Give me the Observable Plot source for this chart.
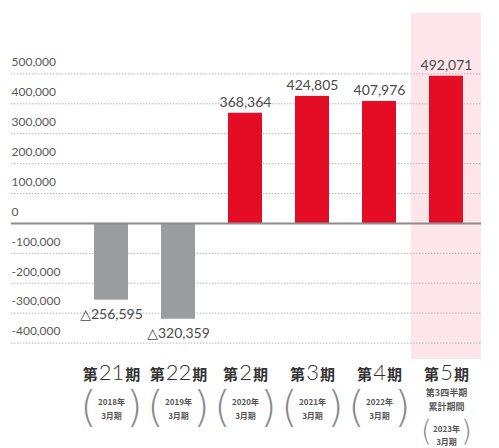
<!DOCTYPE html>
<html>
<head>
<meta charset="utf-8">
<script src="https://cdn.jsdelivr.net/npm/d3@7"></script>
<script src="https://cdn.jsdelivr.net/npm/@observablehq/plot@0.6"></script>
<style>
  html, body { margin: 0; padding: 0; background: #fff; }
  svg { display: block; }
</style>
</head>
<body>
<div id="chart"></div>
<script>
// ---- data ----
const periods = ["第21期", "第22期", "第2期", "第3期", "第4期", "第5期"];
const values = [-256595, -320359, 368364, 424805, 407976, 492071];
const valueLabels = ["△256,595", "△320,359", "368,364", "424,805", "407,976", "492,071"];
const fiscalYears = ["2018年", "2019年", "2020年", "2021年", "2022年", "2023年"];
const fiscalMonths = ["3月期", "3月期", "3月期", "3月期", "3月期", "3月期"];
const notes = ["", "", "", "", "", "第3四半期\n累計期間"];
const highlighted = ["第5期"];
const yTicks = [500000, 400000, 300000, 200000, 100000, 0, -100000, -200000, -300000, -400000];
const yTickLabels = ["500,000", "400,000", "300,000", "200,000", "100,000", "0", "-100,000", "-200,000", "-300,000", "-400,000"];
const yDomain = [-455000, 702000];

const rows = periods.map((p, i) => ({
  period: p, value: values[i], label: valueLabels[i],
  year: fiscalYears[i], month: fiscalMonths[i], note: notes[i]
}));
const ticks = yTicks.map((t, i) => ({t, label: yTickLabels[i]}));
const band = highlighted.map(p => ({period: p, y1: yDomain[0], y2: yDomain[1]}));

const numFont = "Lato, 'DejaVu Sans', sans-serif";
const jpFont = "'Noto Sans CJK JP', sans-serif";
const parenFont = "'DejaVu Sans', sans-serif";

const plainRows = rows.filter(d => d.note === "");
const noteRows = rows.filter(d => d.note !== "");

const chart = Plot.plot({
  width: 499,
  height: 448,
  marginTop: 13,
  marginBottom: 89,
  marginLeft: 11,
  marginRight: 18,
  style: {background: "#fff", fontFamily: numFont},
  x: {type: "band", domain: periods, paddingInner: 0.5, paddingOuter: 0.706, align: 0.813, axis: null},
  y: {domain: yDomain, axis: null},
  marks: [
    Plot.barY(band, {x: "period", y1: "y1", y2: "y2", fill: "#fde5e9", insetLeft: -18, insetRight: -18}),
    Plot.ruleY(yTicks.filter(t => t !== 0), {stroke: "#b5b5b5", strokeWidth: 1, strokeDasharray: "1.5,1.5"}),
    Plot.text(ticks, {y: "t", text: "label", frameAnchor: "left", textAnchor: "start", lineAnchor: "middle", dy: -11.5, fontSize: 12, fill: "#5a5a5a", fontFamily: numFont}),
    Plot.barY(rows, {x: "period", y: "value", fill: d => d.value < 0 ? "#9a9da0" : "#e50c26"}),
    Plot.ruleY([0], {stroke: "#8c8c8c", strokeWidth: 2}),
    Plot.text(rows.filter(d => d.value >= 0), {x: "period", y: "value", text: "label", lineAnchor: "bottom", dy: -6, fontSize: 14, fill: "#4a4a4a", fontFamily: numFont}),
    Plot.text(rows.filter(d => d.value < 0), {x: "period", y: "value", text: "label", lineAnchor: "top", dy: 9, fontSize: 14, fill: "#4a4a4a", fontFamily: numFont}),
    // period labels
    Plot.text(rows, {x: "period", text: "period", frameAnchor: "bottom", lineAnchor: "middle", dy: 16, fontSize: 15, fill: "#333", fontFamily: jpFont, ariaDescription: "period-label"}),
    // notes for the last period
    Plot.text(noteRows, {x: "period", text: "note", frameAnchor: "bottom", lineAnchor: "top", dy: 27, fontSize: 9, lineHeight: 1.5, fontWeight: "bold", fill: "#555", fontFamily: jpFont}),
    // fiscal year in parentheses (plain)
    Plot.text(plainRows, {x: "period", text: d => d.year + "\n" + d.month, frameAnchor: "bottom", lineAnchor: "middle", dy: 48, fontSize: 8, lineHeight: 1.7, fontWeight: "bold", fill: "#555", fontFamily: jpFont}),
    Plot.text(plainRows, {x: "period", text: () => "(", frameAnchor: "bottom", lineAnchor: "middle", dy: 49, dx: -23, fontSize: 42, fontWeight: 200, fill: "#8a8a8a", fontFamily: parenFont}),
    Plot.text(plainRows, {x: "period", text: () => ")", frameAnchor: "bottom", lineAnchor: "middle", dy: 49, dx: 23, fontSize: 42, fontWeight: 200, fill: "#8a8a8a", fontFamily: parenFont}),
    // fiscal year in parentheses (with note)
    Plot.text(noteRows, {x: "period", text: d => d.year + "\n" + d.month, frameAnchor: "bottom", lineAnchor: "middle", dy: 75, fontSize: 8, lineHeight: 1.6, fontWeight: "bold", fill: "#555", fontFamily: jpFont}),
    Plot.text(noteRows, {x: "period", text: () => "(", frameAnchor: "bottom", lineAnchor: "middle", dy: 73, dx: -20, fontSize: 28, fontWeight: 200, fill: "#8a8a8a", fontFamily: parenFont}),
    Plot.text(noteRows, {x: "period", text: () => ")", frameAnchor: "bottom", lineAnchor: "middle", dy: 73, dx: 20, fontSize: 28, fontWeight: 200, fill: "#8a8a8a", fontFamily: parenFont})
  ]
});

// style period labels: bold kanji, large light digits
d3.select(chart).selectAll('g[aria-description="period-label"] text').each(function() {
  const t = this.textContent;
  const m = t.match(/^(第)(\d+)(期)$/);
  if (!m) return;
  const sel = d3.select(this);
  sel.text(null);
  sel.append("tspan").attr("font-weight", "bold").attr("font-size", 15).text(m[1]);
  sel.append("tspan").attr("font-family", numFont).attr("font-weight", 300).attr("font-size", 22).attr("dx", 1).text(m[2]);
  sel.append("tspan").attr("font-weight", "bold").attr("font-size", 15).attr("dx", 1).text(m[3]);
});

document.getElementById("chart").appendChild(chart);
</script>
</body>
</html>
